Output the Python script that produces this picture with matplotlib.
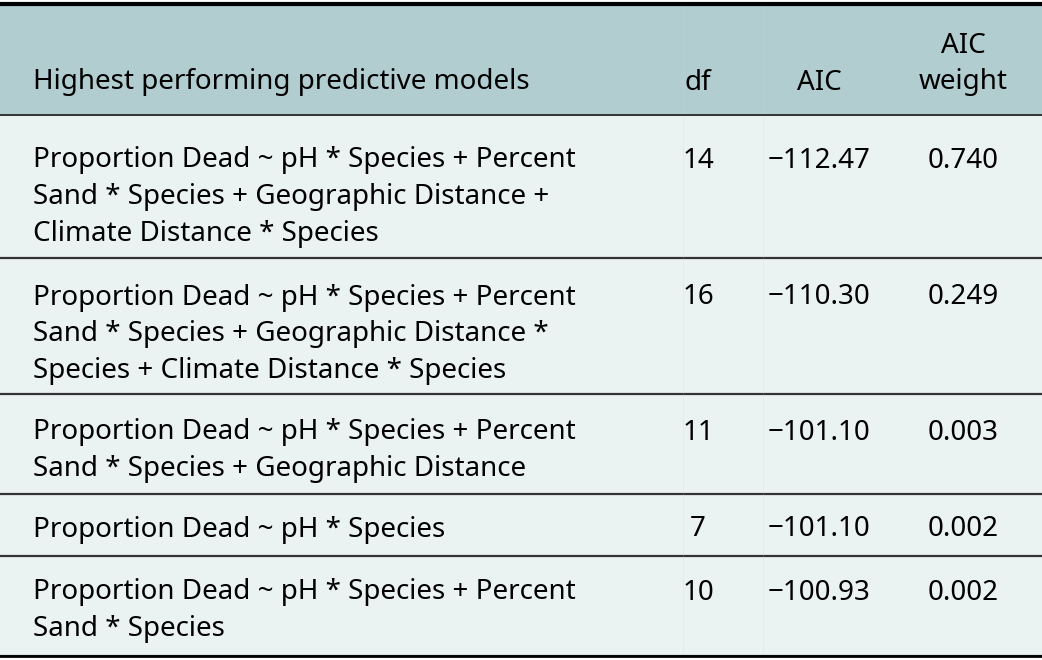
import matplotlib
matplotlib.use("Agg")
import matplotlib.pyplot as plt

# table content
header_model = "Highest performing predictive models"
header_df = "df"
header_aic = "AIC"
header_weight = "AIC\nweight"

models = [
    "Proportion Dead ~ pH * Species + Percent\nSand * Species + Geographic Distance +\nClimate Distance * Species",
    "Proportion Dead ~ pH * Species + Percent\nSand * Species + Geographic Distance *\nSpecies + Climate Distance * Species",
    "Proportion Dead ~ pH * Species + Percent\nSand * Species + Geographic Distance",
    "Proportion Dead ~ pH * Species",
    "Proportion Dead ~ pH * Species + Percent\nSand * Species",
]
df_vals = [14, 16, 11, 7, 10]
aic_vals = [-112.47, -110.30, -101.10, -101.10, -100.93]
weights = [0.740, 0.249, 0.003, 0.002, 0.002]

HEAD_BG = "#b1cdd0"
BODY_BG = "#eaf2f2"
LINE = "#333333"
FONT = "Noto Sans"
FS = 20
LINE_H = 36.8

# row layout (pixels)
row_heights = [143, 136, 100, 62, 100]
first_offsets = [45.5, 39.5, 38.5, 35.5, 36.5]

fig = plt.figure(figsize=(10.42, 6.6), dpi=100)
ax = fig.add_axes([0, 0, 1, 1])
ax.set_xlim(0, 1042)
ax.set_ylim(660, 0)
ax.axis("off")

x_model, x_df, x_aic, x_w = 33, 698, 819, 963
header_top, header_bot = 5, 115

ax.axhspan(header_top, header_bot, color=HEAD_BG, lw=0)
ax.text(x_model, 82.5, header_model, family=FONT, fontsize=FS, va="center", ha="left")
ax.text(x_df, 82.5, header_df, family=FONT, fontsize=FS, va="center", ha="center")
ax.text(x_aic, 82.5, header_aic, family=FONT, fontsize=FS, va="center", ha="center")
ax.text(x_w, 64, header_weight, family=FONT, fontsize=FS, va="center", ha="center",
        linespacing=1.36)

top = header_bot
for model, d, a, w, h, off in zip(models, df_vals, aic_vals, weights,
                                   row_heights, first_offsets):
    ax.axhspan(top, top + h, color=BODY_BG, lw=0)
    first = top + off
    for i, line in enumerate(model.split("\n")):
        ax.text(x_model, first + i * LINE_H, line, family=FONT, fontsize=FS,
                va="center", ha="left")
    ax.text(x_df, first, str(d), family=FONT, fontsize=FS, va="center", ha="center")
    ax.text(x_aic, first, f"{a:.2f}".replace("-", "\u2212"), family=FONT,
            fontsize=FS, va="center", ha="center")
    ax.text(x_w, first, f"{w:.3f}", family=FONT, fontsize=FS, va="center", ha="center")
    top += h
    ax.axhline(top, color=LINE, lw=1.6)

# faint column dividers
for xv in (683, 763):
    ax.plot([xv, xv], [header_top, top], color="#c8d8da", lw=0.5, alpha=0.3)

ax.axhline(header_bot, color=LINE, lw=1.4)
ax.axhline(header_top - 1, color="black", lw=3)
ax.axhline(top, color="black", lw=2)

fig.savefig("out.png", dpi=100, facecolor="white")
